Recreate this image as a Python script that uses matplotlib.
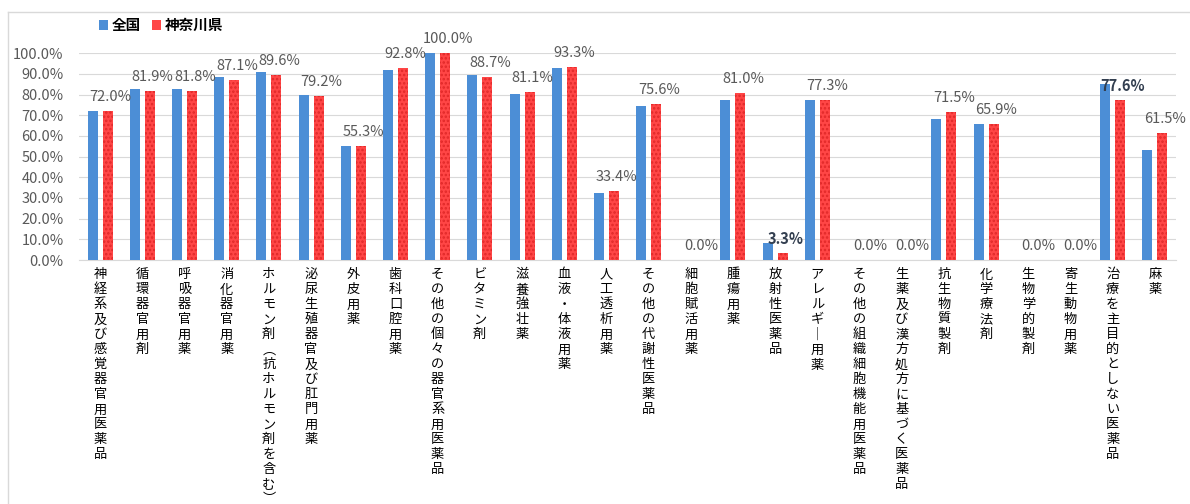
import numpy as np
import matplotlib
matplotlib.use("Agg")
import matplotlib.pyplot as plt
from matplotlib.patches import Patch
from matplotlib.lines import Line2D

plt.rcParams['font.family'] = ['Noto Sans CJK JP', 'DejaVu Sans']
plt.rcParams['hatch.linewidth'] = 1.2

categories = [
    "神経系及び感覚器官用医薬品", "循環器官用剤", "呼吸器官用薬", "消化器官用薬",
    "ホルモン剤(抗ホルモン剤を含む)", "泌尿生殖器官及び肛門用薬", "外皮用薬",
    "歯科口腔用薬", "その他の個々の器官系用医薬品", "ビタミン剤", "滋養強壮薬",
    "血液・体液用薬", "人工透析用薬", "その他の代謝性医薬品", "細胞賦活用薬",
    "腫瘍用薬", "放射性医薬品", "アレルギー用薬", "その他の組織細胞機能用医薬品",
    "生薬及び漢方処方に基づく医薬品", "抗生物質製剤", "化学療法剤", "生物学的製剤",
    "寄生動物用薬", "治療を主目的としない医薬品", "麻薬",
]
zenkoku = [72.1, 82.9, 82.9, 88.3, 91.0, 79.7, 55.2, 91.8, 100.0, 89.4, 80.5,
           93.1, 32.2, 74.4, 0.0, 77.6, 8.1, 77.6, 0.0, 0.0, 68.0, 66.0, 0.0,
           0.0, 85.0, 53.1]
kanagawa = [72.0, 81.9, 81.8, 87.1, 89.6, 79.2, 55.3, 92.8, 100.0, 88.7, 81.1,
            93.3, 33.4, 75.6, 0.0, 81.0, 3.3, 77.3, 0.0, 0.0, 71.5, 65.9, 0.0,
            0.0, 77.6, 61.5]
bold_labels = ["放射性医薬品", "治療を主目的としない医薬品"]
series_names = ["全国", "神奈川県"]

blue = '#4C8ED6'
red = '#FF4646'


def vertical(s):
    # stack characters top-to-bottom like Japanese vertical writing
    s = s.replace('ー', '｜').replace('(', '︵').replace(')', '︶')
    return '\n'.join(s)


fig = plt.figure(figsize=(11.9, 5.04), dpi=100)
ax = fig.add_axes([79 / 1190, 1 - 260 / 504, 1097 / 1190, 206.7 / 504])

x = np.arange(len(categories))
w = 0.237
off = 0.178
ax.bar(x - off, zenkoku, w, color=blue, linewidth=0, zorder=3)
ax.bar(x + off, kanagawa, w, facecolor=red, edgecolor='#E02828', hatch='....',
       linewidth=0, zorder=3)

for i, v in enumerate(kanagawa):
    bold = categories[i] in bold_labels
    ax.annotate(f"{v:.1f}%", (x[i] + off, v), xytext=(2, 10),
                textcoords='offset points', ha='center', va='center',
                fontsize=10.5, color='#333F50' if bold else '#595959',
                fontweight='bold' if bold else 'normal', annotation_clip=False)

ax.set_xlim(-0.5, len(categories) - 0.5)
ax.set_ylim(0, 100)
ax.set_yticks(np.arange(0, 101, 10))
ax.set_yticklabels([f"{t:.1f}%" for t in np.arange(0, 101, 10)])
ax.set_xticks(x)
ax.set_xticklabels([vertical(c) for c in categories], fontsize=9.5,
                   linespacing=1.2, va='top', color='#000000')
ax.tick_params(axis='y', length=0, pad=11, labelsize=10.5, labelcolor='#595959')
ax.tick_params(axis='x', length=0, pad=6)
ax.yaxis.grid(True, color='#D9D9D9', linewidth=0.8, zorder=0)
for s in ['top', 'right', 'left']:
    ax.spines[s].set_visible(False)
ax.spines['bottom'].set_color('#D9D9D9')
ax.set_axisbelow(True)

handles = [Patch(facecolor=blue), Patch(facecolor=red)]
fig.legend(handles, series_names, loc='upper left', bbox_to_anchor=(0.072, 0.992),
           ncol=2, frameon=False, handlelength=0.6, handleheight=0.6,
           handletextpad=0.25, columnspacing=0.8,
           prop={'size': 10.5, 'weight': 'bold'})

# chart area border
fig.add_artist(Line2D([8 / 1190, 1.0], [1 - 12 / 504, 1 - 12 / 504],
                      color='#D9D9D9', linewidth=1))
fig.add_artist(Line2D([8 / 1190, 8 / 1190], [0, 1 - 12 / 504],
                      color='#D9D9D9', linewidth=1))

fig.savefig("out.png", dpi=100, facecolor='white')
